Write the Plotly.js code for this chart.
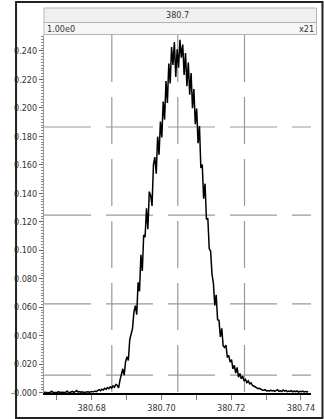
<!DOCTYPE html>
<html>
<head>
<meta charset="utf-8">
<script src="https://cdn.plot.ly/plotly-3.0.1.min.js"></script>
<style>
html,body{margin:0;padding:0;background:#fff;}
#chart{width:324px;height:419px;}
</style>
</head>
<body>
<div id="chart"></div>
<script>
// m/z sampling (start + step) and intensity values
var mzStart = 380.6661;
var mzStep = 0.0004;
var intensity = [
0.0003,0.0001,0.0004,0.0002,0.0000,0.0003,0.0010,0.0002,0.0001,0.0004,
0.0002,0.0008,0.0001,0.0003,0.0002,0.0005,0.0001,0.0012,0.0003,0.0002,
0.0004,0.0009,0.0002,0.0006,0.0015,0.0004,0.0008,0.0003,0.0006,0.0002,
0.0005,0.0003,0.0007,0.0004,0.0006,0.0009,0.0005,0.0012,0.0008,0.0016,
0.0021,0.0014,0.0025,0.0019,0.0031,0.0024,0.0036,0.0028,0.0041,0.0033,
0.0048,0.0039,0.0058,0.0052,0.0034,0.0088,0.0135,0.0168,0.0124,0.0218,
0.0252,0.0226,0.0372,0.0405,0.0452,0.0568,0.0612,0.0548,0.0775,0.0712,
0.0968,0.0855,0.1108,0.1092,0.1295,0.1148,0.1412,0.1385,0.1312,0.1602,
0.1655,0.1538,0.1798,0.1672,0.1905,0.1792,0.2045,0.1918,0.2188,0.2035,
0.2312,0.2172,0.2428,0.2302,0.2462,0.2218,0.2412,0.2282,0.2478,0.2352,
0.2445,0.2231,0.2385,0.2152,0.2318,0.2092,0.2245,0.1998,0.2132,0.1885,
0.1995,0.1752,0.1872,0.1578,0.1602,0.1362,0.1468,0.1218,0.1225,0.1012,
0.0995,0.0832,0.0768,0.0612,0.0688,0.0512,0.0508,0.0392,0.0452,0.0328,
0.0318,0.0335,0.0248,0.0262,0.0215,0.0232,0.0168,0.0192,0.0138,0.0178,
0.0109,0.0135,0.0098,0.0116,0.0082,0.0094,0.0071,0.0083,0.0062,0.0069,
0.0052,0.0047,0.0039,0.0035,0.0028,0.0031,0.0022,0.0019,0.0017,0.0021,
0.0013,0.0016,0.0011,0.0018,0.0012,0.0015,0.0009,0.0013,0.0021,0.0010,
0.0014,0.0008,0.0019,0.0011,0.0016,0.0007,0.0012,0.0009,0.0015,0.0006,
0.0011,0.0008,0.0013,0.0005,0.0010,0.0007,0.0012,0.0006,0.0009,0.0005,
0.0008
];
var yTickVals = [0,0.02,0.04,0.06,0.08,0.10,0.12,0.14,0.16,0.18,0.20,0.22,0.24];
var yTickText = ["-0.000","0.020","0.040","0.060","0.080","0.100","0.120","0.140","0.160","0.180","0.200","0.220","0.240"];
var headerTitle = "380.7";
var headerLeft = "1.00e0";
var headerRight = "x21";

var FONT = "Liberation Sans Narrow, Arial Narrow, DejaVu Sans Condensed, Liberation Sans, sans-serif";

var trace = {
  type: 'scatter', mode: 'lines',
  x0: mzStart, dx: mzStep, y: intensity,
  line: {color: '#000', width: 1.5},
  hoverinfo: 'skip'
};

var gridColor = '#9a9a9a';
var dashPat = '47px,15px';
function hLine(y){ return {type:'line', xref:'paper', yref:'paper', x0:0, x1:1, y0:y, y1:y, layer:'below', line:{color:gridColor, width:1.2, dash:dashPat}}; }
function vLine(x){ return {type:'line', xref:'paper', yref:'paper', x0:x, x1:x, y0:1, y1:0, layer:'below', line:{color:gridColor, width:1.2, dash:dashPat}}; }

var shapes = [
  hLine(0.050), hLine(0.249), hLine(0.497), hLine(0.743),
  vLine(0.254), vLine(0.501), vLine(0.751),
  // header rows
  {type:'rect', xref:'paper', yref:'paper', x0:0, x1:1.0206, y0:1.0349, y1:1.0754, layer:'above', fillcolor:'#f0f0f0', line:{color:'#b4b4b4', width:1}},
  {type:'rect', xref:'paper', yref:'paper', x0:0, x1:1.0206, y0:1.0014, y1:1.0349, layer:'above', fillcolor:'#f6f6f6', line:{color:'#b4b4b4', width:1}},
  // outer frame
  {type:'rect', xref:'paper', yref:'paper', x0:-0.1047, x1:1.043, y0:-0.0698, y1:1.0922, layer:'above', fillcolor:'rgba(0,0,0,0)', line:{color:'#222', width:2}}
];

var layout = {
  width: 324, height: 419,
  margin: {l:44, r:12.5, t:35, b:26, pad:0},
  paper_bgcolor: '#fff', plot_bgcolor: '#fff',
  showlegend: false,
  font: {family: FONT, size: 9, color: '#333'},
  xaxis: {
    range: [380.6663, 380.7429],
    tick0: 380.68, dtick: 0.02, tickformat: '.2f',
    ticks: 'outside', ticklen: 5, tickcolor: '#777', tickwidth: 1,
    minor: {dtick: 0.01, tick0: 380.67, ticks: 'outside', ticklen: 5, tickcolor: '#777', showgrid: false},
    showgrid: false, zeroline: false,
    showline: true, linecolor: '#000', linewidth: 2,
    tickfont: {family: FONT, size: 9, color: '#333'},
    fixedrange: true
  },
  yaxis: {
    range: [-0.0002, 0.2512],
    tickmode: 'array', tickvals: yTickVals, ticktext: yTickText,
    ticks: 'outside', ticklen: 4, tickcolor: '#666', tickwidth: 1,
    minor: {dtick: 0.002, tick0: 0, ticks: 'outside', ticklen: 2, tickcolor: '#888', showgrid: false},
    showgrid: false, zeroline: false,
    showline: true, linecolor: '#9a9a9a', linewidth: 1,
    tickfont: {family: FONT, size: 9, color: '#333'},
    fixedrange: true
  },
  shapes: shapes,
  annotations: [
    {xref:'paper', yref:'paper', x:0.5, y:1.055, text: headerTitle, showarrow:false, xanchor:'center', yanchor:'middle', font:{family:FONT, size:9, color:'#333'}},
    {xref:'paper', yref:'paper', x:0.002, y:1.018, text: headerLeft, showarrow:false, xanchor:'left', yanchor:'middle', font:{family:FONT, size:9, color:'#333'}},
    {xref:'paper', yref:'paper', x:1.019, y:1.018, text: headerRight, showarrow:false, xanchor:'right', yanchor:'middle', font:{family:FONT, size:9, color:'#333'}}
  ]
};

Plotly.newPlot('chart', [trace], layout, {displayModeBar: false, staticPlot: true});
</script>
</body>
</html>
